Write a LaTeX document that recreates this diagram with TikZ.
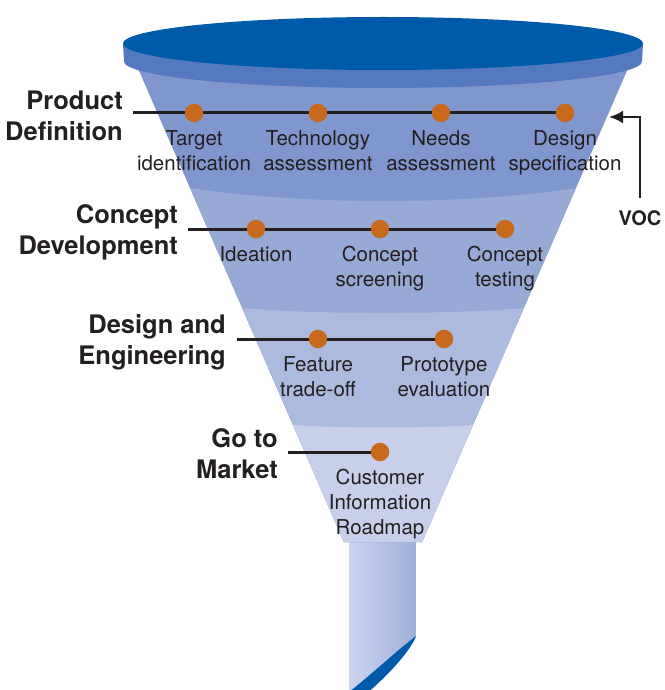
\documentclass[tikz,border=0pt]{standalone}
\usepackage{fontspec}
\setmainfont{TeX Gyre Heros}
\usetikzlibrary{arrows.meta}

\definecolor{capblue}{RGB}{0,90,170}
\definecolor{rimblue}{RGB}{84,121,190}
\definecolor{bandA}{RGB}{128,151,206}
\definecolor{bandB}{RGB}{151,169,213}
\definecolor{bandC}{RGB}{173,186,224}
\definecolor{bandD}{RGB}{199,207,234}
\definecolor{spoutL}{RGB}{204,211,237}
\definecolor{spoutR}{RGB}{158,175,217}
\definecolor{ink}{RGB}{35,31,32}
\definecolor{dotorange}{RGB}{200,105,28}

\begin{document}
\begin{tikzpicture}[x=1pt,y=-1pt,
  stage/.style={font=\fontsize{25.5}{31}\selectfont\bfseries, text=ink,
    align=right, anchor=east, inner sep=0pt},
  task/.style={font=\fontsize{20.5}{25}\selectfont, text=ink,
    align=center, anchor=north, inner sep=0pt},
  milestone/.style={circle, fill=dotorange, minimum size=18.5pt, inner sep=0pt},
  track/.style={draw=ink, line width=3pt},
  feedback/.style={draw=ink, line width=2.7pt, -{Latex[length=14pt,width=13pt]}}
]
\useasboundingbox (0,0) rectangle (664,690);

% ---- funnel spout with its cut end ----
\shade[left color=spoutL, right color=spoutR]
  (349,541) -- (349,692) .. controls (372,674) and (395,652) .. (416,636)
  -- (416,541) -- cycle;
\fill[capblue]
  (349,692) .. controls (372,674) and (395,652) .. (416,636)
  .. controls (412,648) and (392,672) .. (366,694) -- cycle;

% ---- funnel cone with its four stage bands ----
\fill[bandA] (135.2,62) -- (343.9,542) -- (422.1,542) -- (630.8,62) -- cycle;
\begin{scope}
  \clip (135.2,62) -- (343.9,542) -- (422.1,542) -- (630.8,62) -- cycle;
  \fill[bandB] (100,188) -- (190,188) .. controls (300,205.3) and (466,205.3) .. (576,188)
    -- (680,188) -- (680,560) -- (100,560) -- cycle;
  \fill[bandC] (100,308) -- (242.2,308) .. controls (320,314.7) and (446,314.7) .. (523.8,308)
    -- (680,308) -- (680,560) -- (100,560) -- cycle;
  \fill[bandD] (100,425) -- (293,425) .. controls (340,428.3) and (426,428.3) .. (473,425)
    -- (680,425) -- (680,560) -- (100,560) -- cycle;
\end{scope}

% ---- rim and open top ----
\fill[rimblue] (123,43.5) -- (124,61.5) -- (642,61.5) -- (643,43.5) -- cycle;
\fill[rimblue] (383,61.5) ellipse [x radius=259pt, y radius=26.5pt];
\fill[capblue] (383,43.5) ellipse [x radius=260pt, y radius=26.5pt];

% ---- Product Definition ----
\node[stage] (pdLabel) at (123,115.5) {Product\\Definition};
\coordinate (pdStart) at (133,113);
\node[milestone] (pd1) at (194,113) {};
\node[milestone] (pd2) at (318,113) {};
\node[milestone] (pd3) at (441,113) {};
\node[milestone] (pd4) at (565,113) {};
\draw[track] (pdStart) -- (pd1) (pd1) -- (pd2) (pd2) -- (pd3) (pd3) -- (pd4);
\node[task] (pd1Text) at (194,130) {Target\\identification};
\node[task] (pd2Text) at (318,130) {Technology\\assessment};
\node[task] (pd3Text) at (441,130) {Needs\\assessment};
\node[task] (pd4Text) at (565,130) {Design\\specification};

% ---- voice of the customer feeding back ----
\node[font=\fontsize{20}{24}\selectfont\bfseries, text=ink, inner sep=0pt]
  (voc) at (640,218) {VOC};
\coordinate (vocTip) at (609,117);
\draw[feedback, shorten <=12pt] (voc.north) |- (vocTip);

% ---- Concept Development ----
\node[stage] (cdLabel) at (178,232) {Concept\\Development};
\coordinate (cdStart) at (188,229);
\node[milestone] (cd1) at (256,229) {};
\node[milestone] (cd2) at (380,229) {};
\node[milestone] (cd3) at (505,229) {};
\draw[track] (cdStart) -- (cd1) (cd1) -- (cd2) (cd2) -- (cd3);
\node[task] (cd1Text) at (256,246) {Ideation};
\node[task] (cd2Text) at (380,246) {Concept\\screening};
\node[task] (cd3Text) at (505,246) {Concept\\testing};

% ---- Design and Engineering ----
\node[stage] (deLabel) at (226,342) {Design and\\Engineering};
\coordinate (deStart) at (237,339);
\node[milestone] (de1) at (318,339) {};
\node[milestone] (de2) at (444,339) {};
\draw[track] (deStart) -- (de1) (de1) -- (de2);
\node[task] (de1Text) at (318,356) {Feature\\trade-off};
\node[task] (de2Text) at (444,356) {Prototype\\evaluation};

% ---- Go to Market ----
\node[stage] (gmLabel) at (278,454) {Go to\\Market};
\coordinate (gmStart) at (288,452);
\node[milestone] (gm1) at (380,452) {};
\draw[track] (gmStart) -- (gm1);
\node[task] (gm1Text) at (380,469) {Customer\\Information\\Roadmap};

\end{tikzpicture}
\end{document}
